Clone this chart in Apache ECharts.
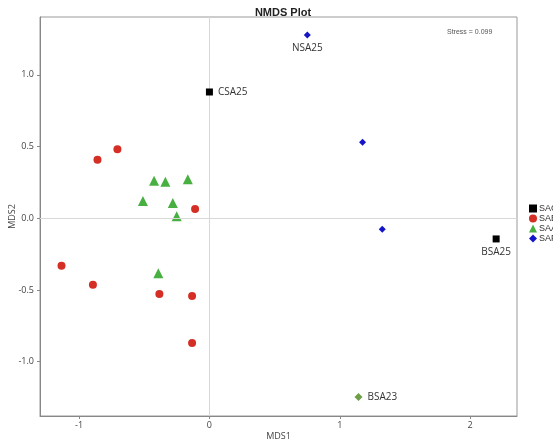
<!DOCTYPE html>
<html>
<head>
<meta charset="utf-8">
<script src="https://cdn.jsdelivr.net/npm/echarts@6/dist/echarts.min.js"></script>
<style>html,body{margin:0;padding:0;background:#fff}#c{width:553px;height:440px}</style>
</head>
<body>
<div id="c"></div>
<script>
const groupNames = ['SAC', 'SAB', 'SAA', 'SAF'];
const sacPoints = [[0.0, 0.881], [2.20, -0.144]];
const sacLabels = ['CSA25', 'BSA25'];
const sabPoints = [[-0.859, 0.409], [-0.706, 0.481], [-0.110, 0.065], [-1.135, -0.331], [-0.894, -0.463], [-0.384, -0.528], [-0.133, -0.542], [-0.133, -0.870]];
const saaPoints = [[-0.425, 0.262], [-0.338, 0.255], [-0.166, 0.272], [-0.510, 0.121], [-0.281, 0.107], [-0.251, 0.014], [-0.392, -0.384]];
const safPoints = [[0.751, 1.278], [1.175, 0.530], [1.326, -0.077]];
const safLabels = ['NSA25', '', ''];
const otherPoints = [[1.144, -1.246]];
const otherLabels = ['BSA23'];
const xTicks = [-1, 0, 1, 2];
const yTicks = [-1.0, -0.5, 0.0, 0.5, 1.0];
const stressText = 'Stress = 0.099';

const labelPos = { CSA25: 'right', BSA25: 'bottom', NSA25: 'bottom', BSA23: 'right' };
function withLabels(points, labels) {
  return points.map((p, i) => {
    const name = labels ? labels[i] : '';
    const item = { value: p, name: name };
    if (name) {
      item.label = { show: true, formatter: name, position: labelPos[name], distance: 5, color: '#333', fontSize: 10, fontFamily: 'Open Sans' };
    }
    return item;
  });
}

const chart = echarts.init(document.getElementById('c'));
const axisLabelStyle = { color: '#444', fontSize: 9, fontFamily: 'Open Sans' };
chart.setOption({
  animation: false,
  backgroundColor: '#fff',
  title: {
    text: 'NMDS Plot', left: 278, top: 2, textAlign: 'center',
    textStyle: { fontSize: 11, fontWeight: 'bold', color: '#222', fontFamily: 'Liberation Sans' }
  },
  graphic: [{
    type: 'text', left: 447, top: 29,
    style: { text: stressText, fontSize: 7, fill: '#555', fontFamily: 'Liberation Sans' }
  }],
  legend: {
    orient: 'vertical', left: 524, top: 199, itemWidth: 8, itemHeight: 8, itemGap: 1,
    textStyle: { fontSize: 9, color: '#333', padding: [0, 0, 0, -3] },
    data: groupNames
  },
  grid: { left: 40, right: 36, top: 17, bottom: 24, show: true, borderColor: '#999', borderWidth: 1, outerBoundsMode: 'none', containLabel: false },
  xAxis: {
    type: 'value', min: -1.3, max: 2.36,
    name: 'MDS1', nameLocation: 'middle', nameGap: 16, nameMoveOverlap: false,
    nameTextStyle: { color: '#444', fontSize: 9, fontFamily: 'Open Sans' },
    axisLine: { show: true, onZero: false, lineStyle: { color: '#888' } },
    axisTick: { show: true, length: 3, customValues: xTicks, lineStyle: { color: '#888' } },
    axisLabel: Object.assign({ customValues: xTicks, formatter: v => String(v), margin: 5 }, axisLabelStyle),
    splitLine: { show: false }
  },
  yAxis: {
    type: 'value', min: -1.379, max: 1.404,
    name: 'MDS2', nameLocation: 'middle', nameGap: 23, nameMoveOverlap: false,
    nameTextStyle: { color: '#444', fontSize: 9, fontFamily: 'Open Sans' },
    axisLine: { show: true, onZero: false, lineStyle: { color: '#888' } },
    axisTick: { show: true, length: 3, customValues: yTicks, lineStyle: { color: '#888' } },
    axisLabel: Object.assign({ customValues: yTicks, formatter: v => v.toFixed(1), margin: 6 }, axisLabelStyle),
    splitLine: { show: false }
  },
  series: [
    {
      name: 'SAC', type: 'scatter', symbol: 'rect', symbolSize: 7, z: 5,
      itemStyle: { color: '#000', opacity: 1 },
      data: withLabels(sacPoints, sacLabels),
      markLine: {
        silent: true, symbol: 'none', label: { show: false },
        lineStyle: { color: '#d8d8d8', type: 'solid', width: 1 },
        data: [{ xAxis: 0 }, { yAxis: 0 }]
      }
    },
    {
      name: 'SAB', type: 'scatter', symbol: 'circle', symbolSize: 8,
      itemStyle: { color: '#d42e25', opacity: 1 },
      data: withLabels(sabPoints)
    },
    {
      name: 'SAA', type: 'scatter', symbol: 'triangle', symbolSize: 10,
      itemStyle: { color: '#48b041', opacity: 1 },
      data: withLabels(saaPoints)
    },
    {
      name: 'SAF', type: 'scatter', symbol: 'diamond', symbolSize: 7,
      itemStyle: { color: '#1414c8', opacity: 1 },
      data: withLabels(safPoints, safLabels)
    },
    {
      name: 'other', type: 'scatter', symbol: 'diamond', symbolSize: 8,
      itemStyle: { color: '#6e9e46', opacity: 1 },
      data: withLabels(otherPoints, otherLabels)
    }
  ]
});
</script>
</body>
</html>
